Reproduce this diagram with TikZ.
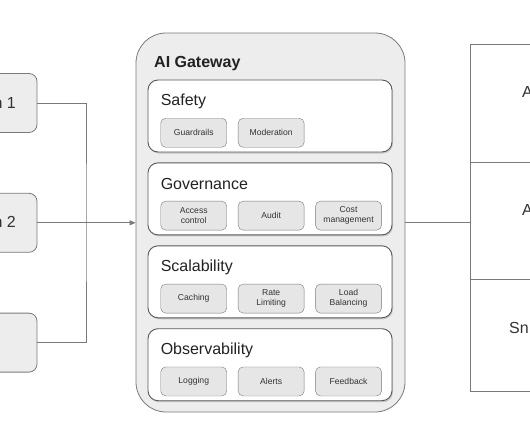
\documentclass[tikz,border=0pt]{standalone}
\usepackage{fontspec}
\setmainfont{Liberation Sans}
\usetikzlibrary{positioning,shadows,arrows.meta}

\definecolor{linegray}{HTML}{7A7A7A}
\definecolor{gwfill}{HTML}{EDEDED}
\definecolor{itemfill}{HTML}{E6E6E6}
\definecolor{darktext}{HTML}{222222}

\tikzset{
  source/.style={draw=linegray, fill=gwfill, rounded corners=8pt, minimum width=87pt, minimum height=59pt, line width=0.8pt},
  gateway/.style={draw=linegray, fill=gwfill, rounded corners=30pt, line width=0.8pt},
  panel/.style={draw=black!65, fill=white, rounded corners=10pt, minimum width=244pt, minimum height=72pt, line width=0.9pt,
    drop shadow={opacity=0.35, shadow xshift=1pt, shadow yshift=-1.5pt}},
  item/.style={draw=linegray, fill=itemfill, rounded corners=5pt, minimum width=66pt, minimum height=29pt, inner sep=1pt,
    align=center, font=\fontsize{8.6}{10}\selectfont, text=black!80},
  paneltitle/.style={anchor=west, inner sep=0pt, font=\fontsize{16}{19}\selectfont, text=darktext},
  provider/.style={draw=linegray, rectangle, minimum width=130pt, outer sep=0pt, line width=0.8pt},
  cuttext/.style={inner sep=0pt, font=\fontsize{16}{19}\selectfont, text=black!80},
  link/.style={draw=linegray, line width=0.8pt}
}

\begin{document}
\begin{tikzpicture}[x=1pt, y=-1pt]
\useasboundingbox (0,0) rectangle (530,442);

% sources on the left
\node[source] (src1) at (-6.5,103) {};
\node[source, below=60pt of src1] (src2) {};
\node[source, below=60pt of src2] (src3) {};
\node[cuttext, anchor=east] (src1txt) at (16,103) {n 1};
\node[cuttext, anchor=east] (src2txt) at (16,222) {n 2};

% gateway
\node[gateway, minimum width=269pt, minimum height=379pt] (gw) at (270.5,222.5) {};
\node[anchor=west, inner sep=0pt, text=darktext, font=\bfseries\fontsize{16}{19}\selectfont] (gwtitle) at (154,64) {AI Gateway};

\node[panel] (safety) at (270,116) {};
\node[panel, below=10pt of safety] (governance) {};
\node[panel, below=10pt of governance] (scalability) {};
\node[panel, below=10pt of scalability] (observability) {};

\foreach \p/\t in {safety/Safety, governance/Governance, scalability/Scalability, observability/Observability}
  \node[paneltitle] (\p-title) at ([xshift=13pt, yshift=-22pt]\p.north west) {\t};

% safety
\node[item, anchor=south west] (guard) at ([xshift=13pt, yshift=5pt]safety.south west) {Guardrails};
\node[item, right=11pt of guard] (moder) {Moderation};

% governance
\node[item, anchor=south west] (access) at ([xshift=13pt, yshift=5pt]governance.south west) {Access\\control};
\node[item, right=11pt of access] (audit) {Audit};
\node[item, right=11pt of audit] (cost) {Cost\\management};

% scalability
\node[item, anchor=south west] (cache) at ([xshift=13pt, yshift=5pt]scalability.south west) {Caching};
\node[item, right=11pt of cache] (rate) {Rate\\Limiting};
\node[item, right=11pt of rate] (balance) {Load\\Balancing};

% observability
\node[item, anchor=south west] (logs) at ([xshift=13pt, yshift=5pt]observability.south west) {Logging};
\node[item, right=11pt of logs] (alerts) {Alerts};
\node[item, right=11pt of alerts] (feedback) {Feedback};

% providers on the right
\node[provider, minimum height=118pt] (prov1) at (535,103) {};
\node[provider, minimum height=117pt, below=0pt of prov1] (prov2) {};
\node[provider, minimum height=112pt, below=0pt of prov2] (prov3) {};
\node[cuttext, anchor=west] (prov1txt) at (522,92) {A};
\node[cuttext, anchor=west] (prov2txt) at (522,210) {A};
\node[cuttext, anchor=west] (prov3txt) at (509,328) {Sn};

% connectors
\coordinate (srcbus) at (86,222);
\draw[link] (src1.east) -| (srcbus) |- (src3.east);
\draw[link, -{Triangle[length=6pt, width=5pt]}] (src2.east) -- (src2.east -| gw.west);
\draw[link] (gw.east) -- (gw.east -| prov2.west);
\end{tikzpicture}
\end{document}
